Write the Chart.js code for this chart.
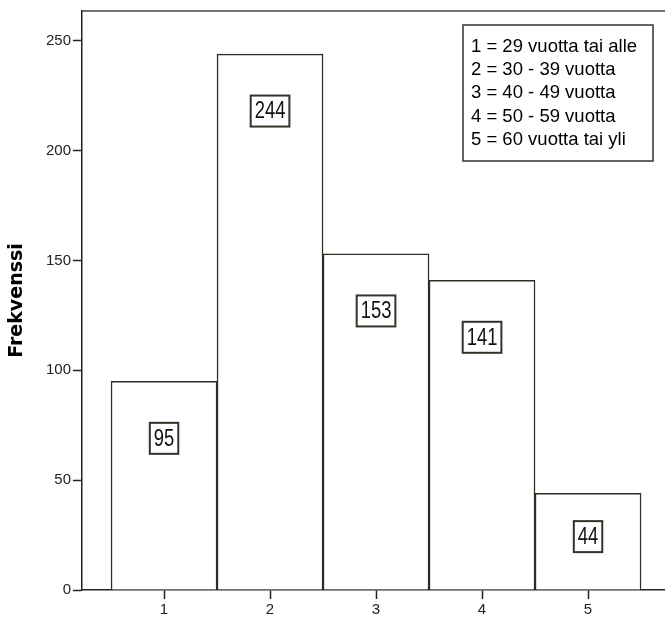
<!DOCTYPE html>
<html>
<head>
<meta charset="utf-8">
<script src="https://cdn.jsdelivr.net/npm/chart.js@4/dist/chart.umd.min.js"></script>
<style>
    html, body { margin: 0; padding: 0; background: #fff; }
    #chart { display: block; }
</style>
</head>
<body>
<canvas id="chart" width="665" height="619"></canvas>
<script>
const categories = [1, 2, 3, 4, 5];
const counts = [95, 244, 153, 141, 44];
const yTicks = [0, 50, 100, 150, 200, 250];
const legendLines = [
    '1 = 29 vuotta tai alle',
    '2 = 30 - 39 vuotta',
    '3 = 40 - 49 vuotta',
    '4 = 50 - 59 vuotta',
    '5 = 60 vuotta tai yli'
];

// top frame line of the plot area
const frameTop = {
    id: 'frameTop',
    afterDraw(chart) {
        const { ctx, chartArea } = chart;
        ctx.save();
        ctx.strokeStyle = '#444';
        ctx.lineWidth = 1.5;
        ctx.beginPath();
        ctx.moveTo(chartArea.left, chartArea.top);
        ctx.lineTo(chartArea.right, chartArea.top);
        ctx.stroke();
        ctx.restore();
    }
};

// boxed count labels inside the bars
const boxLabels = {
    id: 'boxLabels',
    afterDatasetsDraw(chart) {
        const ctx = chart.ctx;
        const meta = chart.getDatasetMeta(0);
        ctx.save();
        ctx.font = '23px "Liberation Sans", Arial, sans-serif';
        ctx.textAlign = 'center';
        ctx.textBaseline = 'middle';
        meta.data.forEach((bar, i) => {
            const text = String(counts[i]);
            const h = bar.base - bar.y;
            const cy = bar.y + Math.min(57, h * 0.45);
            const w = ctx.measureText(text).width * 0.8 + 8;
            const bh = 31;
            ctx.fillStyle = '#fff';
            ctx.fillRect(bar.x - w / 2, cy - bh / 2, w, bh);
            ctx.strokeStyle = '#33332a';
            ctx.lineWidth = 2;
            ctx.strokeRect(bar.x - w / 2, cy - bh / 2, w, bh);
            ctx.save();
            ctx.translate(bar.x, cy + 1);
            ctx.scale(0.8, 1);
            ctx.fillStyle = '#111';
            ctx.fillText(text, 0, 0);
            ctx.restore();
        });
        ctx.restore();
    }
};

// legend box in the top right corner
const legendBox = {
    id: 'legendBox',
    afterDraw(chart) {
        const ctx = chart.ctx;
        ctx.save();
        ctx.fillStyle = '#fff';
        ctx.fillRect(463, 25, 190, 136);
        ctx.strokeStyle = '#333';
        ctx.lineWidth = 1.5;
        ctx.strokeRect(463, 25, 190, 136);
        ctx.fillStyle = '#000';
        ctx.font = '18.5px "Liberation Sans", Arial, sans-serif';
        ctx.textBaseline = 'middle';
        ctx.textAlign = 'left';
        legendLines.forEach((line, i) => {
            ctx.fillText(line, 471, 47 + i * 23.2);
        });
        ctx.restore();
    }
};

new Chart(document.getElementById('chart'), {
    type: 'bar',
    data: {
        datasets: [{
            data: categories.map((c, i) => ({ x: c, y: counts[i] })),
            backgroundColor: '#fff',
            borderColor: '#2e2e22',
            borderWidth: 1.5,
            barPercentage: 1,
            categoryPercentage: 1
        }]
    },
    options: {
        responsive: false,
        animation: false,
        devicePixelRatio: 1,
        layout: { padding: { top: 7, right: 0, left: 0, bottom: 0 } },
        plugins: {
            legend: { display: false },
            tooltip: { enabled: false }
        },
        scales: {
            x: {
                type: 'linear',
                min: 0.226,
                max: 5.726,
                offset: false,
                afterBuildTicks(scale) {
                    scale.ticks = categories.map(v => ({ value: v }));
                },
                afterFit(scale) { scale.height = 29; },
                grid: {
                    offset: false,
                    drawOnChartArea: false,
                    drawTicks: true,
                    tickLength: 9,
                    tickColor: '#222',
                    tickWidth: 1.5
                },
                border: { display: true, color: '#222', width: 1.5 },
                ticks: {
                    padding: 2,
                    color: '#222',
                    maxRotation: 0,
                    font: { family: '"Liberation Sans", Arial, sans-serif', size: 15 }
                }
            },
            y: {
                min: 0,
                max: 263.6,
                afterBuildTicks(scale) {
                    scale.ticks = yTicks.map(v => ({ value: v }));
                },
                afterFit(scale) { scale.width = 82; },
                grid: {
                    drawOnChartArea: false,
                    drawTicks: true,
                    tickLength: 9,
                    tickColor: '#222',
                    tickWidth: 1.5
                },
                border: { display: true, color: '#222', width: 1.5 },
                ticks: {
                    padding: 2,
                    color: '#222',
                    font: { family: '"Liberation Sans", Arial, sans-serif', size: 15 }
                },
                title: {
                    display: true,
                    text: 'Frekvenssi',
                    color: '#000',
                    padding: { top: 6, bottom: 0 },
                    font: { family: '"DejaVu Sans", Verdana, sans-serif', size: 19, weight: 'bold' }
                }
            }
        }
    },
    plugins: [frameTop, boxLabels, legendBox]
});
</script>
</body>
</html>
